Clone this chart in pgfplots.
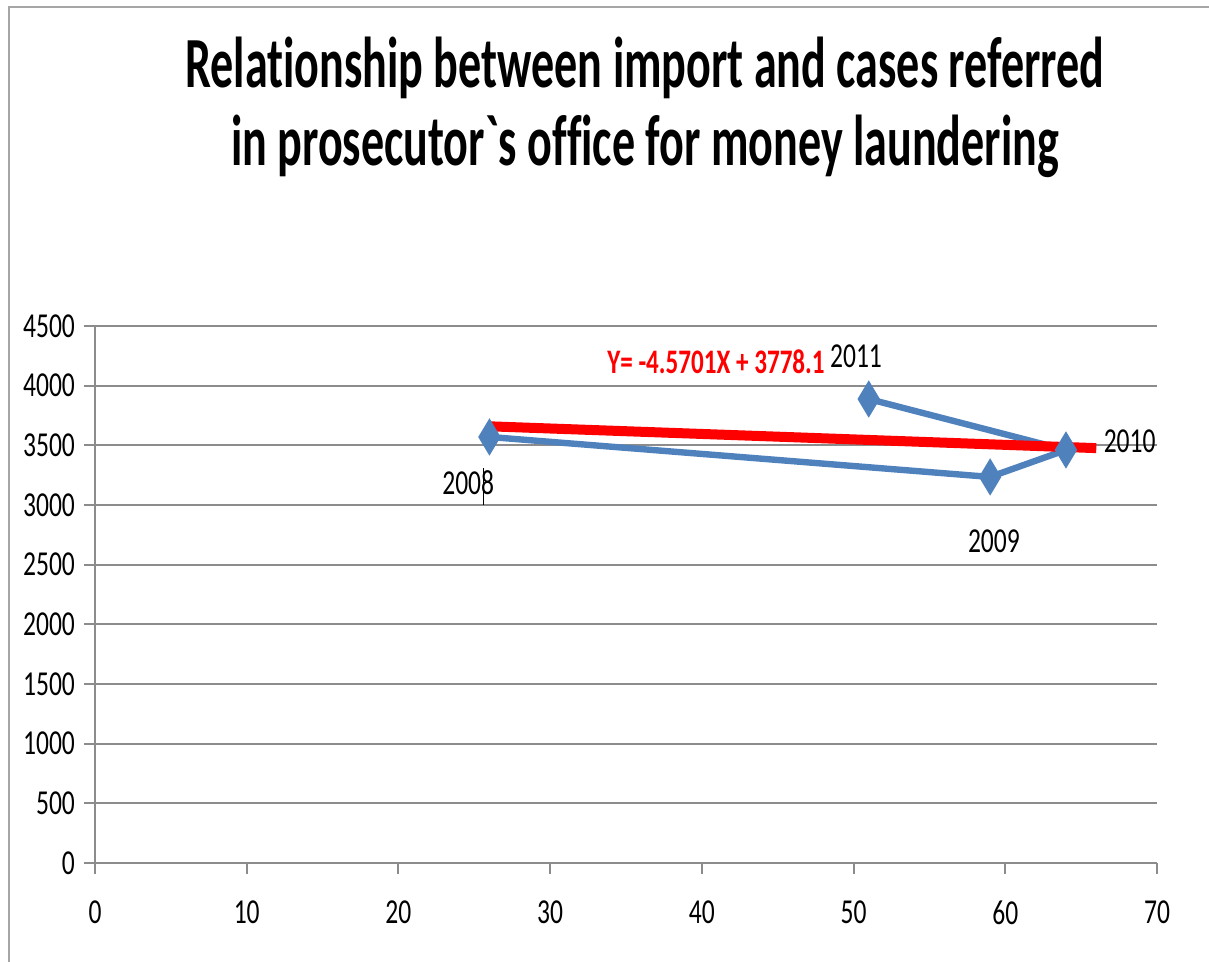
\documentclass[border=0pt]{standalone}
\usepackage{pgfplots}
\pgfplotsset{compat=1.18}
\usepackage{fontspec}
\setmainfont{Carlito}[FakeStretch=0.73]
\newfontfamily\titlefont{Carlito}[FakeStretch=0.64, Ligatures=NoCommon]
\definecolor{exblue}{HTML}{4F81BD}
\definecolor{gridgray}{HTML}{8C8C8C}
\begin{document}
\begin{tikzpicture}
\useasboundingbox (0,0) rectangle (604.5pt,481pt);
\draw[gray!70, line width=1.3pt] (4.5pt,-10pt) -- (4.5pt,477.5pt) -- (620pt,477.5pt);
\node[anchor=base, inner sep=0pt] at (322.5pt,437pt) {\titlefont\bfseries\fontsize{36}{40}\selectfont Relationship between import and cases referred};
\node[anchor=base, inner sep=0pt] at (322.5pt,398pt) {\titlefont\bfseries\fontsize{36}{40}\selectfont in prosecutor`s office for money laundering};
\begin{axis}[
  at={(47.5pt,49.5pt)}, anchor=south west,
  scale only axis, width=531pt, height=268.5pt,
  xmin=0, xmax=70, ymin=0, ymax=4500,
  xtick={0,10,...,70}, ytick={0,500,...,4500},
  axis x line=bottom, axis y line=left,
  axis line style={draw=gridgray, line width=1pt, -},
  ymajorgrids, grid style={gridgray, line width=1pt},
  tick style={gridgray, line width=1pt},
  tick align=outside, major tick length=5.5pt,
  /pgf/number format/assume math mode=true,
  /pgf/number format/1000 sep={},
  ticklabel style={font=\fontsize{17.5}{20}\selectfont},
  xticklabel style={yshift=-10pt},
  yticklabel style={xshift=-1pt},
  clip=false,
]
\addplot[color=exblue, line width=3.2pt, mark=diamond*, mark size=5pt, mark options={solid, fill=exblue, yscale=1.25}]
  coordinates {(26,3570) (59,3235) (64,3461) (51,3888)};
\addplot[color=red, line width=5pt, no marks] coordinates {(26,3659.3) (66,3476.5)};
\draw[black, line width=0.6pt] (axis cs:25.6,3310) -- (axis cs:25.6,3000);
\node[font=\fontsize{17.5}{20}\selectfont] at (axis cs:24.6,3184) {2008};
\node[font=\fontsize{17.5}{20}\selectfont] at (axis cs:59.25,2698) {2009};
\node[font=\fontsize{17.5}{20}\selectfont] at (axis cs:68.2,3536) {2010};
\node[font=\fontsize{17.5}{20}\selectfont] at (axis cs:50.16,4249) {2011};
\node[font=\bfseries\fontsize{17.2}{20}\selectfont, text=red] at (axis cs:40.93,4199) {Y= -4.5701X + 3778.1};
\end{axis}
\end{tikzpicture}
\end{document}
